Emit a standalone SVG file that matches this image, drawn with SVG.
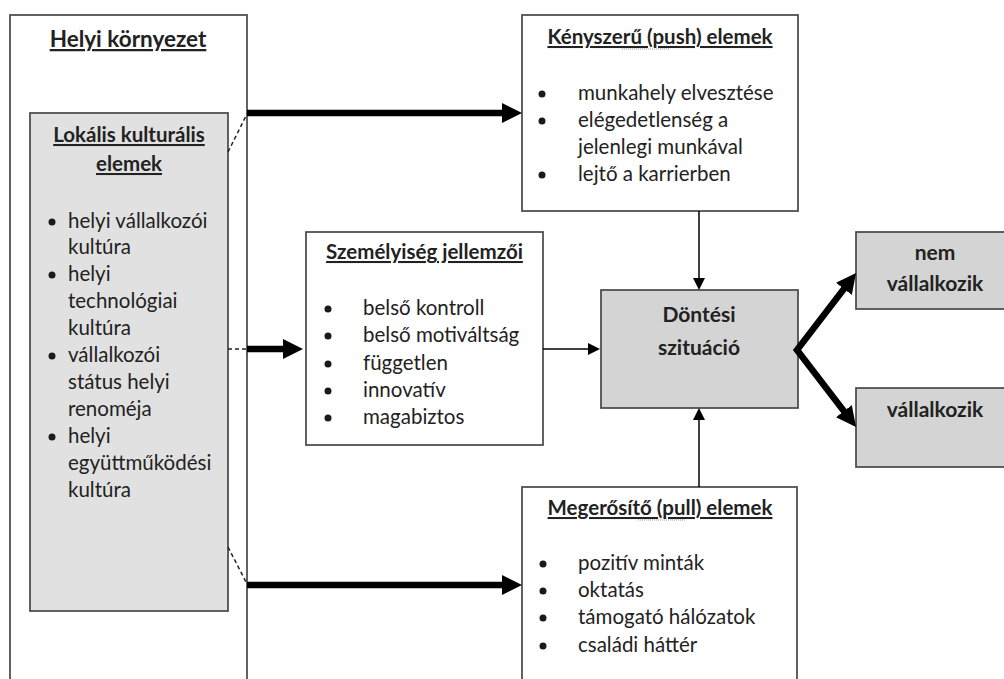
<svg xmlns="http://www.w3.org/2000/svg" width="1004" height="679" viewBox="0 0 1004 679">
  <style>
    .box { fill: #ffffff; stroke: #474747; stroke-width: 1.7; }
    .gl { fill: #e1e1e1; stroke: #474747; stroke-width: 1.7; }
    .gd { fill: #d4d4d4; stroke: #474747; stroke-width: 1.7; }
    text { font-family: "Lato", "Liberation Sans", sans-serif; fill: #222222; font-size: 20.5px; }
    .t { font-weight: bold; text-decoration: underline; text-anchor: middle; }
    .big { font-size: 22.5px; }
    .b { font-weight: bold; text-anchor: middle; font-size: 21px; }
    .dot { fill: #1a1a1a; }
    .thick { stroke: #000; stroke-width: 6.5; fill: none; }
    .thin { stroke: #000; stroke-width: 1.5; fill: none; }
    .dash { stroke: #222; stroke-width: 1.5; stroke-dasharray: 4 3; fill: none; }
    .sq { stroke: #999; stroke-width: 1.2; stroke-dasharray: 1 1; fill: none; }
  </style>
  <defs>
    <marker id="hk" markerUnits="userSpaceOnUse" markerWidth="20" markerHeight="20" refX="5" refY="10" orient="auto-start-reverse">
      <path d="M0,0 L20,10 L0,20 z" fill="#000"/>
    </marker>
    <marker id="hn" markerUnits="userSpaceOnUse" markerWidth="12" markerHeight="12" refX="10" refY="6" orient="auto">
      <path d="M0,0 L12,6 L0,12 z" fill="#000"/>
    </marker>
  </defs>

  <g id="helyi-kornyezet">
    <rect class="box" x="10" y="15" width="237" height="680"/>
    <text class="t big" x="128" y="47">Helyi környezet</text>
  </g>

  <g id="lokalis-elemek">
    <rect class="gl" x="30" y="113" width="198" height="498"/>
    <text class="t" x="129" y="142">Lokális kulturális</text>
    <text class="t" x="129" y="171">elemek</text>
    <circle class="dot" cx="52" cy="222" r="3.5"/>
    <circle class="dot" cx="52" cy="275" r="3.5"/>
    <circle class="dot" cx="52" cy="356" r="3.5"/>
    <circle class="dot" cx="52" cy="437" r="3.5"/>
    <text x="68" y="228">helyi vállalkozói</text>
    <text x="68" y="254">kultúra</text>
    <text x="68" y="281">helyi</text>
    <text x="68" y="308">technológiai</text>
    <text x="68" y="335">kultúra</text>
    <text x="68" y="362">vállalkozói</text>
    <text x="68" y="389">státus helyi</text>
    <text x="68" y="416">renoméja</text>
    <text x="68" y="443">helyi</text>
    <text x="68" y="470">együttműködési</text>
    <text x="68" y="497">kultúra</text>
  </g>

  <g id="push-elemek">
    <rect class="box" x="522" y="15" width="276" height="196"/>
    <text class="t" x="660" y="44">Kényszerű (push) elemek</text>
    <path class="sq" d="M622,49 H670"/>
    <circle class="dot" cx="542" cy="94" r="3.5"/>
    <circle class="dot" cx="542" cy="121" r="3.5"/>
    <circle class="dot" cx="542" cy="175" r="3.5"/>
    <text x="578" y="100">munkahely elvesztése</text>
    <text x="578" y="127">elégedetlenség a</text>
    <text x="578" y="154">jelenlegi munkával</text>
    <text x="578" y="181">lejtő a karrierben</text>
  </g>

  <g id="szemelyiseg">
    <rect class="box" x="306" y="232" width="237" height="213"/>
    <text class="t" x="424.5" y="259">Személyiség jellemzői</text>
    <circle class="dot" cx="328" cy="309" r="3.5"/>
    <circle class="dot" cx="328" cy="336" r="3.5"/>
    <circle class="dot" cx="328" cy="364" r="3.5"/>
    <circle class="dot" cx="328" cy="391" r="3.5"/>
    <circle class="dot" cx="328" cy="418" r="3.5"/>
    <text x="363" y="315">belső kontroll</text>
    <text x="363" y="342">belső motiváltság</text>
    <text x="363" y="370">független</text>
    <text x="363" y="397">innovatív</text>
    <text x="363" y="424">magabiztos</text>
  </g>

  <g id="dontesi-szituacio">
    <rect class="gd" x="601" y="290" width="197" height="118"/>
    <text class="b" x="699" y="322">Döntési</text>
    <text class="b" x="699" y="355">szituáció</text>
  </g>

  <g id="nem-vallalkozik">
    <rect class="gd" x="856" y="232" width="160" height="77"/>
    <text class="b" x="935" y="260">nem</text>
    <text class="b" x="935" y="291">vállalkozik</text>
  </g>

  <g id="vallalkozik">
    <rect class="gd" x="856" y="388" width="160" height="79"/>
    <text class="b" x="935" y="417">vállalkozik</text>
  </g>

  <g id="pull-elemek">
    <rect class="box" x="522" y="487" width="275" height="220"/>
    <text class="t" x="660" y="515">Megerősítő (pull) elemek</text>
    <path class="sq" d="M638,520 H686"/>
    <circle class="dot" cx="543" cy="564" r="3.5"/>
    <circle class="dot" cx="543" cy="591" r="3.5"/>
    <circle class="dot" cx="543" cy="618" r="3.5"/>
    <circle class="dot" cx="543" cy="646" r="3.5"/>
    <text x="578" y="570">pozitív minták</text>
    <text x="578" y="597">oktatás</text>
    <text x="578" y="624">támogató hálózatok</text>
    <text x="578" y="652">családi háttér</text>
  </g>

  <g id="connectors">
    <path class="dash" d="M228,152 L247,114"/>
    <path class="dash" d="M228,349 H247"/>
    <path class="dash" d="M228,547 L247,584"/>
    <path class="thick" d="M247,113 H507" marker-end="url(#hk)"/>
    <path class="thick" d="M247,349 H288" marker-end="url(#hk)"/>
    <path class="thick" d="M247,585 H507" marker-end="url(#hk)"/>
    <path class="thick" d="M846.9,284.9 L797,350 L846.9,415.1" marker-start="url(#hk)" marker-end="url(#hk)"/>
    <path class="thin" d="M699,211 V288" marker-end="url(#hn)"/>
    <path class="thin" d="M699,487 V410" marker-end="url(#hn)"/>
    <path class="thin" d="M543,349 H598" marker-end="url(#hn)"/>
  </g>
</svg>
